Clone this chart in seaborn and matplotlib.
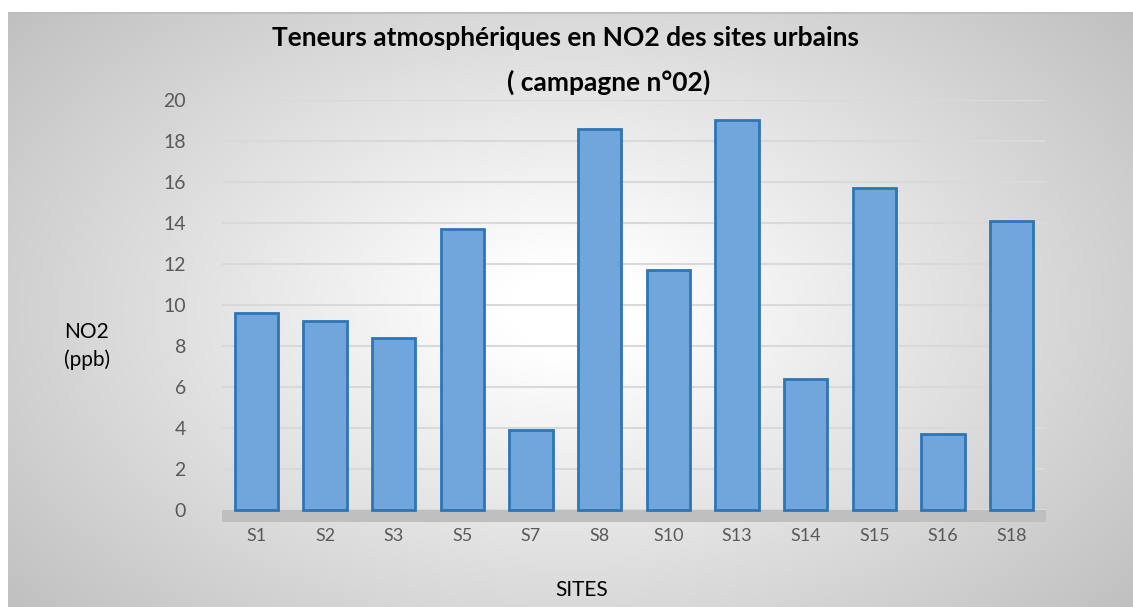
import matplotlib
matplotlib.use("Agg")
import matplotlib.pyplot as plt
import numpy as np
import pandas as pd
import seaborn as sns

sites = ["S1", "S2", "S3", "S5", "S7", "S8", "S10", "S13", "S14", "S15", "S16", "S18"]
no2_ppb = [9.6, 9.2, 8.4, 13.7, 3.9, 18.6, 11.7, 19.0, 6.4, 15.7, 3.7, 14.1]
y_ticks = list(range(0, 21, 2))

df = pd.DataFrame({"site": sites, "no2": no2_ppb})

sns.set_theme(style="white")
plt.rcParams["font.family"] = ["Lato", "DejaVu Sans"]

W, H = 1133, 607
fig = plt.figure(figsize=(W / 100, H / 100), dpi=100)
fig.patch.set_facecolor("white")

# chart area background: light radial gradient, grey at the corners
bg = fig.add_axes([8 / W, 0, 1 - 8 / W, 1 - 12 / H], zorder=-5)
gx, gy = np.meshgrid(np.linspace(-1, 1, 400), np.linspace(-1, 1, 220))
r = np.clip(np.sqrt((gx / 1.0) ** 2 + (gy / 1.2) ** 2), 0, 1.3)
shade = 1 - 0.24 * np.clip(r - 0.12, 0, None) / 1.15
bg.imshow(np.dstack([shade] * 3), aspect="auto", extent=[0, 1, 0, 1])
bg.axhline(1, color="#bdbdbd", lw=2)
bg.set_axis_off()

ax = fig.add_axes([222 / W, 1 - 522 / H, (1046 - 222) / W, (522 - 100) / H])
ax.set_facecolor("none")

sns.barplot(data=df, x="site", y="no2", ax=ax, color="#70a6dc",
            edgecolor="#2e75b6", linewidth=2, width=0.63, saturation=1,
            zorder=3)

ax.axhspan(-0.6, 0, color="#bfbfbf", zorder=1, lw=0)
ax.set_ylim(-0.6, 20)
ax.set_yticks(y_ticks)
for t in y_ticks:
    ax.axhline(t, color="#d9d9d9", lw=1.5, zorder=0)
ax.grid(False)
sns.despine(ax=ax, left=True, bottom=True)

ax.tick_params(axis="y", length=0, pad=26, labelsize=14, labelcolor="#595959")
ax.tick_params(axis="x", length=0, pad=4, labelsize=13, labelcolor="#595959")
ax.set_xlabel("")
ax.set_ylabel("")

fig.text(565 / W, 1 - 38 / H, "Teneurs atmosphériques en NO2 des sites urbains",
         ha="center", va="center", fontsize=19, fontweight="bold", color="black")
fig.text(609 / W, 1 - 82 / H, "( campagne n°02)",
         ha="center", va="center", fontsize=19, fontweight="bold", color="black")
fig.text(64 / W, 1 - 346 / H, "NO2\n(ppb)", ha="left", va="center",
         fontsize=15, color="black", linespacing=1.5)
fig.text(582 / W, 1 - 590 / H, "SITES", ha="center", va="center",
         fontsize=15, color="black")

fig.savefig("out.png", dpi=100)
